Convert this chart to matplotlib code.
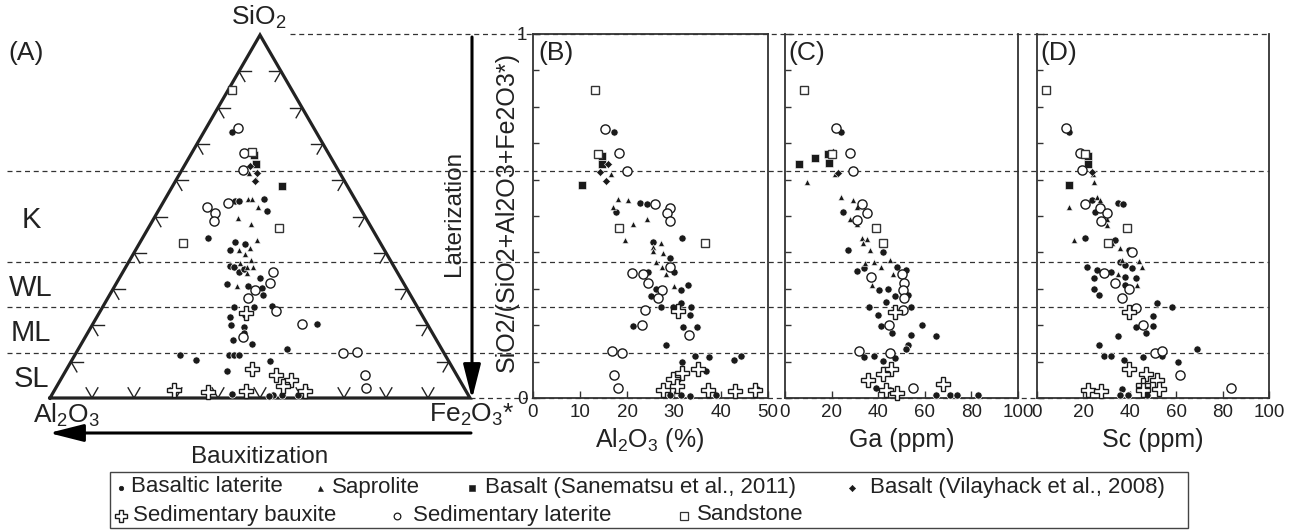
import numpy as np
import matplotlib
matplotlib.use("Agg")
import matplotlib.pyplot as plt
import matplotlib.transforms as mtransforms
from matplotlib.patches import Rectangle

plt.rcParams['font.family'] = ['Liberation Sans', 'DejaVu Sans']
plt.rcParams['mathtext.fontset'] = 'custom'
plt.rcParams['mathtext.rm'] = 'Liberation Sans'
plt.rcParams['mathtext.default'] = 'regular'

# ---------------- Ternary data (normalised %, SiO2 and Fe2O3*; Al2O3 = rest) ----------
t_sand_si = [84.9, 46.8, 42.7, 67.7]
t_sand_fe = [1.0, 31.2, 10.2, 14.3]
t_sane_si = [66.9, 64.5, 58.3]
t_sane_fe = [15.2, 16.7, 26.0]
t_vila_si = [63.9, 62.0, 59.7]
t_vila_fe = [15.7, 18.2, 19.0]
t_sapr_si = [60.2, 62.0, 54.7, 54.8, 52.5, 49.6, 48.0, 43.6, 41.3, 40.8, 39.7, 38.1, 36.2, 36.2, 34.4, 30.9, 37.1]
t_sapr_fe = [18.9, 16.5, 19.9, 20.8, 23.2, 20.0, 23.8, 27.6, 27.0, 24.5, 26.6, 28.7, 28.9, 30.3, 29.6, 29.0, 26.7]
t_basl_si = [73.4, 54.2, 54.2, 54.7, 51.6, 44.2, 43.1, 42.4, 36.4, 36.2, 34.8, 35.5, 33.0, 31.4, 30.9, 30.2,
             28.4, 25.2, 25.2, 25.3, 22.4, 22.9, 20.1, 19.6, 18.0, 20.3, 14.8, 13.6, 11.8, 10.6, 11.8, 11.8,
             11.8, 10.2, 7.4, 1.2, 0.7, 0.7, 0.5, 0.9, 15.9, 40.8]
t_basl_fe = [6.7, 16.9, 17.8, 23.5, 25.8, 15.6, 22.5, 25.2, 24.7, 25.7, 27.7, 28.5, 33.5, 26.4, 31.8, 35.3,
             36.6, 31.2, 36.0, 40.1, 31.7, 35.0, 33.0, 36.5, 37.3, 53.4, 40.7, 49.7, 25.1, 29.5, 36.8, 37.9,
             39.2, 47.3, 38.4, 42.8, 52.7, 55.0, 51.8, 58.7, 35.7, 22.5]
t_sedl_si = [74.3, 67.6, 62.7, 52.6, 51.0, 48.8, 53.7, 34.6, 31.8, 29.8, 27.5, 24.1, 20.3, 12.5, 12.8, 6.4, 2.8, 16.9]
t_sedl_fe = [7.6, 12.3, 14.5, 11.2, 13.8, 14.6, 15.6, 35.9, 36.6, 33.9, 33.5, 41.7, 49.9, 63.6, 66.7, 71.7, 73.9, 37.6]
t_sedb_si = [23.3, 7.9, 6.4, 5.0, 3.3, 2.1, 1.7, 1.9, 1.9]
t_sedb_fe = [34.9, 44.2, 50.7, 54.9, 53.9, 28.5, 36.8, 45.6, 59.7]

# ---------------- Panel B: Al2O3 (%) vs SiO2/(SiO2+Al2O3+Fe2O3*) ----------------
b_sand_x = [13.2, 18.4, 36.5, 13.9]
b_sand_y = [0.847, 0.467, 0.427, 0.669]
b_sane_x = [14.6, 14.6, 10.5]
b_sane_y = [0.665, 0.644, 0.584]
b_vila_x = [14.2, 15.6, 16.0]
b_vila_y = [0.621, 0.595, 0.644]
b_sapr_x = [16.5, 18.1, 20.2, 17.1, 24.2, 21.3, 19.6, 25.6, 27.2, 27.7, 26.1, 27.4, 28.3, 29.9, 25.6]
b_sapr_y = [0.616, 0.546, 0.543, 0.525, 0.493, 0.478, 0.434, 0.416, 0.425, 0.397, 0.374, 0.361, 0.342, 0.308, 0.405]
b_basl_x = [17.3, 22.7, 24.2, 17.6, 31.8, 25.5, 29.2, 30.0, 24.5, 32.9, 31.4, 26.2, 25.2, 27.2, 29.7, 31.5, 33.6,
            33.4, 31.9, 34.9, 21.2, 28.4, 31.7, 34.5, 37.4, 42.8, 44.2, 36.8, 29.2, 31.5, 33.5, 39.0, 47.7]
b_basl_y = [0.732, 0.537, 0.534, 0.511, 0.440, 0.428, 0.384, 0.347, 0.347, 0.311, 0.297, 0.299, 0.281, 0.251,
            0.251, 0.262, 0.251, 0.228, 0.195, 0.195, 0.199, 0.146, 0.100, 0.116, 0.114, 0.105, 0.116, 0.073,
            0.007, 0.008, 0.006, 0.007, 0.025]
b_sedl_x = [15.3, 18.3, 20.1, 25.9, 29.2, 28.6, 29.2, 21.1, 23.5, 24.5, 27.4, 26.7, 23.8, 23.1, 33.2, 16.9, 19.0,
            17.3, 18.1, 29.2]
b_sedl_y = [0.740, 0.674, 0.624, 0.534, 0.523, 0.507, 0.486, 0.344, 0.340, 0.317, 0.297, 0.274, 0.242, 0.201,
            0.174, 0.128, 0.125, 0.062, 0.027, 0.361]
b_sedb_x = [30.9, 31.7, 29.7, 30.6, 35.0, 27.6, 37.3, 43.0, 47.2]
b_sedb_y = [0.239, 0.068, 0.052, 0.034, 0.079, 0.023, 0.023, 0.018, 0.023]

# ---------------- Panel C: Ga (ppm) ----------------
c_sand_x = [8.1, 39.0, 42.1, 20.0]
c_sand_y = [0.847, 0.467, 0.427, 0.671]
c_sane_x = [6.1, 13.0, 18.3, 19.0]
c_sane_y = [0.644, 0.658, 0.669, 0.646]
c_vila_x = [20.7, 22.9]
c_vila_y = [0.676, 0.618]
c_sapr_x = [21.4, 9.3, 24.0, 29.1, 31.0, 28.0, 31.0, 32.9, 35.4, 33.3, 36.4, 38.1, 41.3, 45.0, 46.4, 37.3, 34.3]
c_sapr_y = [0.616, 0.594, 0.553, 0.543, 0.525, 0.493, 0.478, 0.440, 0.436, 0.425, 0.406, 0.374, 0.361, 0.379,
            0.342, 0.311, 0.370]
c_basl_x = [24.0, 25.0, 27.1, 42.1, 41.9, 31.0, 34.0, 47.9, 51.9, 47.1, 52.9, 44.0, 40.3, 35.9, 43.3, 54.0, 40.0,
            41.1, 46.0, 58.9, 54.0, 64.6, 52.9, 51.9, 34.0, 38.1, 41.9, 47.1, 39.0, 45.0, 64.7, 70.7, 73.9, 82.9]
c_basl_y = [0.732, 0.511, 0.406, 0.425, 0.400, 0.349, 0.358, 0.361, 0.353, 0.280, 0.283, 0.299, 0.297, 0.251,
            0.263, 0.251, 0.228, 0.198, 0.178, 0.201, 0.172, 0.169, 0.146, 0.135, 0.114, 0.116, 0.103, 0.111,
            0.027, 0.023, 0.007, 0.007, 0.007, 0.007]
c_sedl_x = [21.9, 27.9, 29.0, 33.0, 35.1, 31.0, 50.3, 51.0, 50.7, 51.0, 50.7, 37.1, 44.7, 31.9, 45.0, 55.0]
c_sedl_y = [0.742, 0.674, 0.624, 0.534, 0.507, 0.488, 0.341, 0.317, 0.297, 0.274, 0.242, 0.333, 0.201, 0.128,
            0.125, 0.027]
c_sedb_x = [47.1, 45.3, 41.9, 35.7, 67.6, 43.3, 47.9]
c_sedb_y = [0.237, 0.080, 0.067, 0.050, 0.038, 0.023, 0.014]

# ---------------- Panel D: Sc (ppm) ----------------
d_sand_x = [4.0, 38.8, 30.5, 20.5]
d_sand_y = [0.847, 0.467, 0.426, 0.671]
d_sane_x = [22.1, 22.1, 13.8]
d_sane_y = [0.665, 0.644, 0.584]
d_vila_x = [23.6]
d_vila_y = [0.621]
d_sapr_x = [24.1, 24.4, 25.8, 27.2, 13.9, 30.1, 30.1, 15.8, 32.2, 35.8, 44.1, 45.1, 35.1, 43.3, 36.5]
d_sapr_y = [0.616, 0.594, 0.553, 0.543, 0.525, 0.493, 0.475, 0.434, 0.425, 0.411, 0.377, 0.361, 0.342, 0.311, 0.379]
d_basl_x = [13.8, 35.1, 36.9, 23.6, 24.9, 20.6, 33.7, 39.8, 21.5, 25.8, 31.8, 35.8, 38.0, 40.8, 42.7, 24.6, 38.0,
            24.6, 26.9, 38.0, 51.9, 58.0, 49.9, 49.9, 42.7, 47.0, 34.8, 26.9, 28.9, 31.8, 37.7, 45.8, 53.7, 60.9,
            68.8, 36.5, 35.8, 39.4, 47.3]
d_basl_y = [0.732, 0.537, 0.532, 0.543, 0.511, 0.440, 0.434, 0.406, 0.361, 0.353, 0.347, 0.374, 0.365, 0.358,
            0.329, 0.329, 0.333, 0.299, 0.283, 0.311, 0.262, 0.251, 0.226, 0.198, 0.194, 0.178, 0.169, 0.146,
            0.116, 0.116, 0.105, 0.114, 0.116, 0.100, 0.135, 0.026, 0.007, 0.007, 0.007]
d_sedl_x = [12.3, 18.6, 19.6, 20.8, 27.2, 30.1, 27.5, 28.7, 33.7, 39.7, 36.5, 42.7, 45.8, 50.9, 53.7, 61.6, 83.8, 40.8]
d_sedl_y = [0.742, 0.674, 0.626, 0.534, 0.523, 0.507, 0.486, 0.344, 0.317, 0.299, 0.276, 0.247, 0.201, 0.125,
            0.128, 0.064, 0.027, 0.402]
d_sedb_x = [39.7, 39.8, 47.0, 51.6, 45.8, 52.6, 45.6, 21.8, 27.5]
d_sedb_y = [0.237, 0.080, 0.067, 0.050, 0.037, 0.025, 0.021, 0.023, 0.018]

# laterite classification boundaries (SiO2 fraction)
class_bounds = [0.125, 0.25, 0.375, 0.625]
class_labels = ['SL', 'ML', 'WL', 'K']

legend_row1 = ['Basaltic laterite', 'Saprolite', 'Basalt (Sanematsu et al., 2011)', 'Basalt (Vilayhack et al., 2008)']
legend_row2 = ['Sedimentary bauxite', 'Sedimentary laterite', 'Sandstone']

# ---------------- styles ----------------
INK = '#1a1a1a'
STY = {
    'basl': dict(marker='o', ms=5.2, mfc=INK, mec='white', mew=0.5),
    'sapr': dict(marker='^', ms=5.0, mfc=INK, mec='white', mew=0.4),
    'sane': dict(marker='s', ms=5.2, mfc=INK, mec='white', mew=0.4),
    'vila': dict(marker='D', ms=3.6, mfc=INK, mec='white', mew=0.4),
    'sedl': dict(marker='o', ms=6.6, mfc='white', mec=INK, mew=1.0),
    'sand': dict(marker='s', ms=6.4, mfc='white', mec='#333333', mew=1.0),
    'sedb': dict(marker='P', ms=9.5, mfc='white', mec=INK, mew=1.0),
}
ORDER = ['basl', 'sapr', 'sane', 'vila', 'sedl', 'sand', 'sedb']

W, H = 1289, 530
fig = plt.figure(figsize=(W / 100, H / 100), dpi=100)


def px_axes(l, t, r, b):
    return fig.add_axes([l / W, 1 - b / H, (r - l) / W, (b - t) / H])


ax_o = fig.add_axes([0, 0, 1, 1])
ax_o.set_xlim(0, W)
ax_o.set_ylim(H, 0)
ax_o.axis('off')
ax_o.set_zorder(0)

# ---------------- ternary ----------------
h = np.sqrt(3) / 2
ax_t = px_axes(50, 35, 470, 398)
ax_t.set_xlim(0, 1)
ax_t.set_ylim(0, h)
ax_t.axis('off')
ax_t.set_zorder(2)
ax_t.patch.set_alpha(0)

ax_t.plot([0, 1, 0.5, 0], [0, 0, h, 0], color='#222222', lw=2.3, clip_on=False,
          solid_joinstyle='miter', zorder=3)
L = 0.028
for t in np.arange(1, 10) / 10:
    # left edge
    px, py = t / 2, t * h
    ax_t.plot([px, px + L], [py, py], color='#222222', lw=1.0, zorder=2)
    ax_t.plot([px, px + L * 0.5], [py, py - L * h], color='#222222', lw=1.0, zorder=2)
    # right edge
    px, py = 1 - t / 2, t * h
    ax_t.plot([px, px - L], [py, py], color='#222222', lw=1.0, zorder=2)
    ax_t.plot([px, px - L * 0.5], [py, py - L * h], color='#222222', lw=1.0, zorder=2)
    # base
    px = t
    ax_t.plot([px, px - L * 0.5], [0, L * h], color='#222222', lw=1.0, zorder=2)
    ax_t.plot([px, px + L * 0.5], [0, L * h], color='#222222', lw=1.0, zorder=2)


def tern_xy(si, fe):
    si = np.asarray(si) / 100.0
    fe = np.asarray(fe) / 100.0
    return fe + si / 2, si * h


tern = {
    'basl': (t_basl_si, t_basl_fe), 'sapr': (t_sapr_si, t_sapr_fe), 'sane': (t_sane_si, t_sane_fe),
    'vila': (t_vila_si, t_vila_fe), 'sedl': (t_sedl_si, t_sedl_fe), 'sand': (t_sand_si, t_sand_fe),
    'sedb': (t_sedb_si, t_sedb_fe),
}
for k in ORDER:
    x, y = tern_xy(*tern[k])
    ax_t.plot(x, y, ls='none', clip_on=False, zorder=4, **STY[k])

# ---------------- panels ----------------
ax_b = px_axes(533, 34, 768, 398)
ax_c = px_axes(785, 34, 1018, 398)
ax_d = px_axes(1037, 34, 1269, 398)

panels = [
    (ax_b, 50, np.arange(0, 51, 10), {
        'basl': (b_basl_x, b_basl_y), 'sapr': (b_sapr_x, b_sapr_y), 'sane': (b_sane_x, b_sane_y),
        'vila': (b_vila_x, b_vila_y), 'sedl': (b_sedl_x, b_sedl_y), 'sand': (b_sand_x, b_sand_y),
        'sedb': (b_sedb_x, b_sedb_y)}),
    (ax_c, 100, np.arange(0, 101, 20), {
        'basl': (c_basl_x, c_basl_y), 'sapr': (c_sapr_x, c_sapr_y), 'sane': (c_sane_x, c_sane_y),
        'vila': (c_vila_x, c_vila_y), 'sedl': (c_sedl_x, c_sedl_y), 'sand': (c_sand_x, c_sand_y),
        'sedb': (c_sedb_x, c_sedb_y)}),
    (ax_d, 100, np.arange(0, 101, 20), {
        'basl': (d_basl_x, d_basl_y), 'sapr': (d_sapr_x, d_sapr_y), 'sane': (d_sane_x, d_sane_y),
        'vila': (d_vila_x, d_vila_y), 'sedl': (d_sedl_x, d_sedl_y), 'sand': (d_sand_x, d_sand_y),
        'sedb': (d_sedb_x, d_sedb_y)}),
]
for i, (ax, xmax, xt, data) in enumerate(panels):
    ax.set_zorder(1)
    ax.patch.set_alpha(0)
    ax.set_xlim(0, xmax)
    ax.set_ylim(0, 1)
    for k in ORDER:
        x, y = data[k]
        ax.plot(x, y, ls='none', clip_on=False, zorder=4, **STY[k])
    ax.set_xticks(xt)
    ax.set_xticklabels([str(v) for v in xt], fontsize=13.5, color='#222222')
    ax.set_yticks([0, 1])
    ax.set_yticks(np.arange(1, 10) / 10, minor=True)
    if i == 0:
        ax.set_yticklabels(['0', '1'], fontsize=13.5, color='#222222')
    else:
        ax.set_yticklabels([])
        ax.spines['top'].set_visible(False)
    ax.tick_params(which='major', direction='in', length=5, width=1, pad=4, colors='#333333',
                   labelcolor='#222222')
    ax.tick_params(which='minor', direction='in', length=4, width=1, colors='#333333')
    for s in ax.spines.values():
        s.set_color('#333333')
        s.set_linewidth(1.3)

# dashed classification lines (x in figure pixels, y in ratio units)
trans = mtransforms.blended_transform_factory(ax_o.transData, ax_b.transData)
dash = dict(color='#333333', lw=0.9, ls=(0, (4, 3)), transform=trans, zorder=0.5)
for s in class_bounds:
    ax_o.plot([7, 1269], [s, s], **dash)
ax_o.plot([290, 1269], [1, 1], **dash)
ax_o.plot([470, 1269], [0, 0], **dash)

# class labels
lab_y = [0.0625, 0.1875, 0.3125, 0.5]
for lab, yv in zip(class_labels, lab_y):
    ax_o.text(31, yv - 0.01, lab, fontsize=21, ha='center', va='center', color='#222222', transform=trans)

# ---------------- texts ----------------
tc = '#222222'
ax_o.text(259, 17, 'SiO$_2$', fontsize=19, ha='center', va='center', color=tc)
ax_o.text(66, 415, 'Al$_2$O$_3$', fontsize=19, ha='center', va='center', color=tc)
ax_o.text(472, 415, 'Fe$_2$O$_3$*', fontsize=19, ha='center', va='center', color=tc)
ax_o.text(8, 53, '(A)', fontsize=19, ha='left', va='center', color=tc)
ax_o.text(538, 53, '(B)', fontsize=19, ha='left', va='center', color=tc)
ax_o.text(788, 53, '(C)', fontsize=19, ha='left', va='center', color=tc)
ax_o.text(1040, 53, '(D)', fontsize=19, ha='left', va='center', color=tc)
ax_o.text(454, 213, 'Laterization', fontsize=17.5, rotation=90, ha='center', va='center', color=tc)
ax_o.text(507, 212, 'SiO2/(SiO2+Al2O3+Fe2O3*)', fontsize=18, rotation=90, ha='center', va='center', color=tc)
ax_o.text(650, 440, 'Al$_2$O$_3$ (%)', fontsize=18, ha='center', va='center', color=tc)
ax_o.text(902, 440, 'Ga (ppm)', fontsize=18, ha='center', va='center', color=tc)
ax_o.text(1153, 440, 'Sc (ppm)', fontsize=18, ha='center', va='center', color=tc)
ax_o.text(260, 457, 'Bauxitization', fontsize=17.5, ha='center', va='center', color=tc)

arrow = dict(arrowstyle='-|>,head_length=1.5,head_width=0.38', lw=2.2, color='black',
             shrinkA=0, shrinkB=0, mutation_scale=14)
ax_o.annotate('', xy=(472, 399), xytext=(472, 37), arrowprops=arrow)
ax_o.annotate('', xy=(49, 433), xytext=(471, 433), arrowprops=arrow)

# ---------------- legend ----------------
ax_o.add_patch(Rectangle((110, 472), 1078, 56, fill=False, ec='#444444', lw=1.0))
leg_sty = {
    'basl': dict(marker='o', ms=3.2, mfc=INK, mec=INK, mew=0.5),
    'sapr': dict(marker='^', ms=3.6, mfc=INK, mec=INK, mew=0.4),
    'sane': dict(marker='s', ms=4.0, mfc=INK, mec=INK, mew=0.4),
    'vila': dict(marker='D', ms=3.2, mfc=INK, mec=INK, mew=0.4),
    'sedb': dict(marker='P', ms=8.0, mfc='white', mec=INK, mew=1.0),
    'sedl': dict(marker='o', ms=4.8, mfc='white', mec=INK, mew=0.9),
    'sand': dict(marker='s', ms=5.2, mfc='white', mec='#333333', mew=0.9),
}
row1_keys = ['basl', 'sapr', 'sane', 'vila']
row1_mx = [121, 320, 472, 852]
row1_tx = [131, 332, 485, 870]
row2_keys = ['sedb', 'sedl', 'sand']
row2_mx = [121, 397, 684]
row2_tx = [133, 413, 697]
for keys, mxs, txs, labels, yy in [(row1_keys, row1_mx, row1_tx, legend_row1, 487),
                                    (row2_keys, row2_mx, row2_tx, legend_row2, 515)]:
    for k, mx, tx, lab in zip(keys, mxs, txs, labels):
        ax_o.plot([mx], [yy + 1], ls='none', **leg_sty[k])
        ax_o.text(tx, yy, lab, fontsize=16, ha='left', va='center', color=tc)

fig.savefig('out.png', dpi=100)
